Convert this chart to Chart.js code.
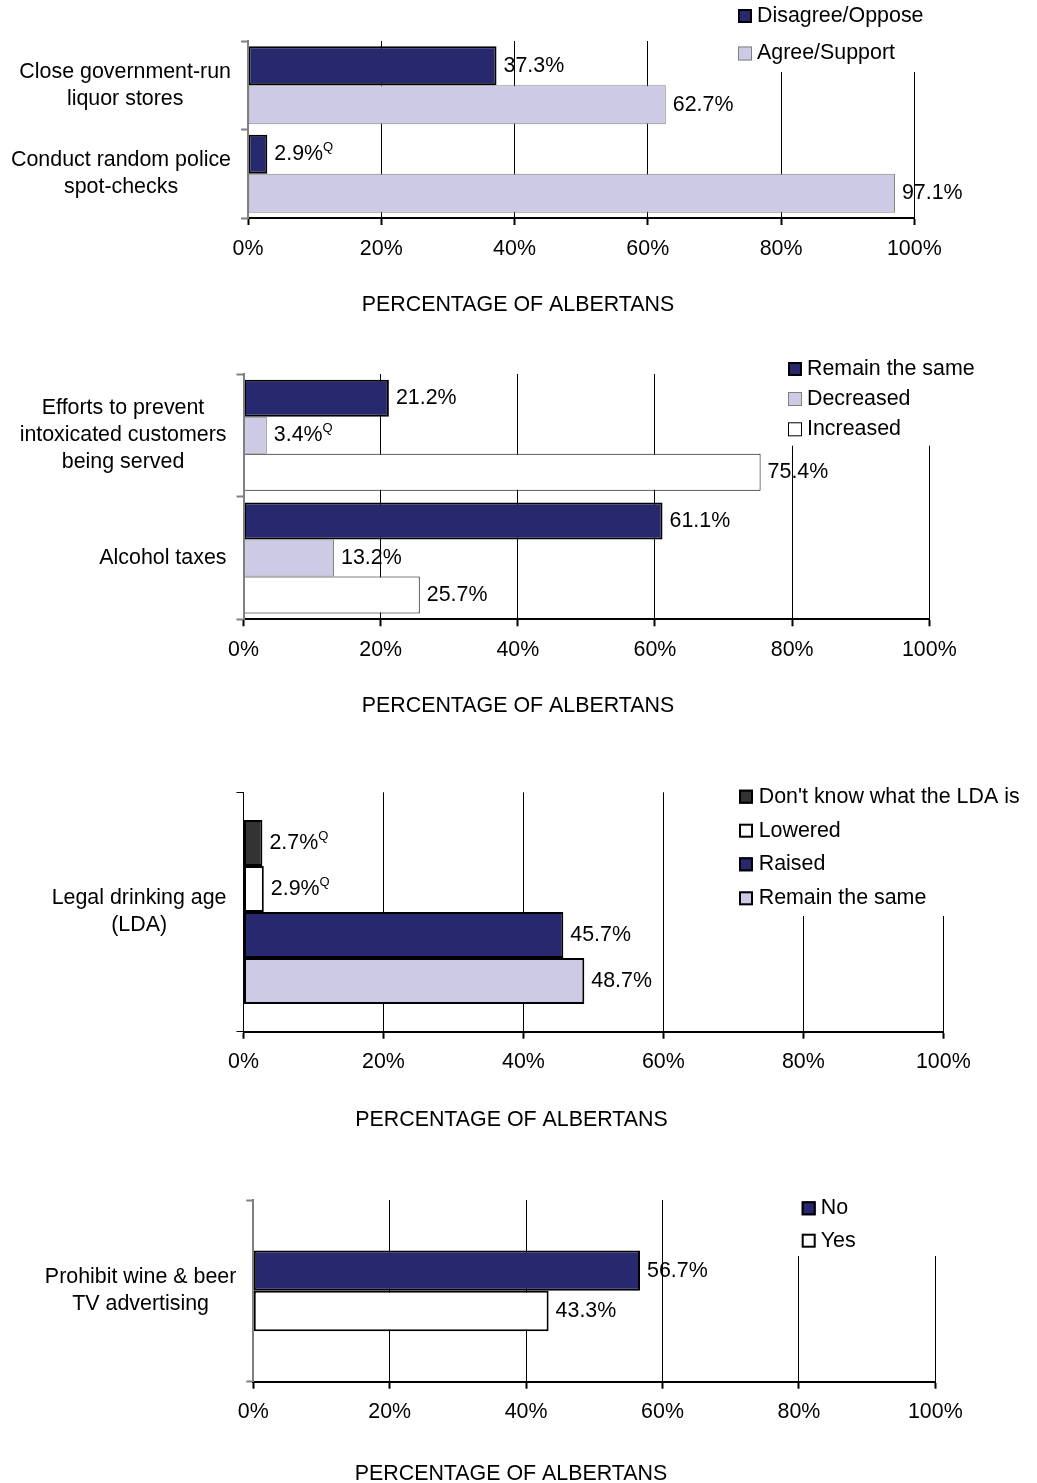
<!DOCTYPE html>
<html>
<head>
<meta charset="utf-8">
<title>Albertans and alcohol policy</title>
<script src="https://cdn.jsdelivr.net/npm/chart.js@4.4.1/dist/chart.umd.min.js"></script>
<style>
  html, body { margin: 0; padding: 0; background: #fff; overflow: hidden; }
  body { width: 1037px; height: 1483px; position: relative; }
  .panel { position: absolute; left: 0; width: 1037px; }
</style>
</head>
<body>
<div class="panel" id="p1"><canvas id="chart1"></canvas></div>
<div class="panel" id="p2"><canvas id="chart2"></canvas></div>
<div class="panel" id="p3"><canvas id="chart3"></canvas></div>
<div class="panel" id="p4"><canvas id="chart4"></canvas></div>
<script>
// Données des graphiques
const axisTitle = 'PERCENTAGE OF ALBERTANS';
const xTickValues = [0, 20, 40, 60, 80, 100];

// 1. liquor stores / police spot-checks
const policyItems = [['Close government-run', 'liquor stores'], ['Conduct random police', 'spot-checks']];
const policyLegend = ['Disagree/Oppose', 'Agree/Support'];
const policyDisagree = [37.3, 2.9];
const policyAgree = [62.7, 97.1];
const policyDisagreeQ = [false, true];

// 2. should be increased / decreased / remain the same
const changeItems = [['Efforts to prevent', 'intoxicated customers', 'being served'], ['Alcohol taxes']];
const changeLegend = ['Remain the same', 'Decreased', 'Increased'];
const changeSame = [21.2, 61.1];
const changeDecreased = [3.4, 13.2];
const changeIncreased = [75.4, 25.7];
const changeDecreasedQ = [true, false];

// 3. legal drinking age
const ldaItems = [['Legal drinking age', '(LDA)']];
const ldaLegend = ["Don't know what the LDA is", 'Lowered', 'Raised', 'Remain the same'];
const ldaDontKnow = [2.7];
const ldaLowered = [2.9];
const ldaRaised = [45.7];
const ldaSame = [48.7];
const ldaDontKnowQ = [true];
const ldaLoweredQ = [true];

// 4. TV advertising
const adItems = [['Prohibit wine & beer', 'TV advertising']];
const adLegend = ['No', 'Yes'];
const adNo = [56.7];
const adYes = [43.3];

// Styles
const FAMILY = '"Liberation Sans", Arial, sans-serif';
const FSIZE = 21.4;
const FONT = FSIZE + 'px ' + FAMILY;
const SMALL = '13px ' + FAMILY;
const NAVY = '#28286e';
const LAVENDER = '#cccae4';
const WHITE = '#ffffff';
const DARK = '#333333';
const HX = 50;              // hauteur de l'axe x
const LH = FSIZE * 1.2;     // hauteur de ligne du titre

Chart.defaults.font.family = FAMILY;
Chart.defaults.font.size = FSIZE;
Chart.defaults.color = '#000';

const panels = [
    {
        canvas: 'chart1', div: 'p1', top: 0, height: 326,
        plotTop: 41, axisY: 218, zeroX: 248, fullX: 914.3, titleY: 303, titleX: 518,
        catPct: 0.88, yLine: '#808080', yLineWidth: 2,
        legend: { left: 731, bottom: 72, boxX: 738, textX: 757, rows: [16, 53.5] },
        labels: policyItems,
        datasets: [
            { label: policyLegend[0], data: policyDisagree, quality: policyDisagreeQ, backgroundColor: NAVY, borderColor: '#000', borderWidth: 2 },
            { label: policyLegend[1], data: policyAgree, backgroundColor: LAVENDER, borderColor: '#808080', borderWidth: 1 }
        ]
    },
    {
        canvas: 'chart2', div: 'p2', top: 330, height: 397,
        plotTop: 374, axisY: 619.3, zeroX: 243.5, fullX: 929.3, titleY: 704, titleX: 518,
        catPct: 0.905, yLine: '#808080', yLineWidth: 2,
        legend: { left: 783, bottom: 445.7, boxX: 788, textX: 807, rows: [369, 399, 429.3] },
        labels: changeItems,
        datasets: [
            { label: changeLegend[0], data: changeSame, backgroundColor: NAVY, borderColor: '#000', borderWidth: 2 },
            { label: changeLegend[1], data: changeDecreased, quality: changeDecreasedQ, backgroundColor: LAVENDER, borderColor: '#808080', borderWidth: 1 },
            { label: changeLegend[2], data: changeIncreased, backgroundColor: WHITE, borderColor: '#000', borderWidth: 1 }
        ]
    },
    {
        canvas: 'chart3', div: 'p3', top: 740, height: 402,
        plotTop: 792.3, axisY: 1031.7, zeroX: 243.5, fullX: 943.3, titleY: 1118, titleX: 511.5,
        catPct: 0.768, yLine: '#000', yLineWidth: 1,
        legend: { left: 734, bottom: 916, boxX: 739, textX: 758.7, rows: [796.7, 830.7, 864.3, 898.3] },
        labels: ldaItems,
        datasets: [
            { label: ldaLegend[0], data: ldaDontKnow, quality: ldaDontKnowQ, backgroundColor: DARK, borderColor: '#000', borderWidth: 2 },
            { label: ldaLegend[1], data: ldaLowered, quality: ldaLoweredQ, backgroundColor: WHITE, borderColor: '#000', borderWidth: 2 },
            { label: ldaLegend[2], data: ldaRaised, backgroundColor: NAVY, borderColor: '#000', borderWidth: 2 },
            { label: ldaLegend[3], data: ldaSame, backgroundColor: LAVENDER, borderColor: '#000', borderWidth: 2 }
        ]
    },
    {
        canvas: 'chart4', div: 'p4', top: 1148, height: 342,
        plotTop: 1200, axisY: 1381.7, zeroX: 253.3, fullX: 935.3, titleY: 1471.7, titleX: 511,
        catPct: 0.444, yLine: '#808080', yLineWidth: 2,
        legend: { left: 796, bottom: 1256, boxX: 801.7, textX: 820.7, rows: [1208.3, 1240.7] },
        labels: adItems,
        datasets: [
            { label: adLegend[0], data: adNo, backgroundColor: NAVY, borderColor: '#000', borderWidth: 2 },
            { label: adLegend[1], data: adYes, backgroundColor: WHITE, borderColor: '#000', borderWidth: 2 }
        ]
    }
];

// Étiquettes, catégories et légende dessinées sur le canvas
const panelDecor = {
    id: 'panelDecor',
    afterDatasetsDraw(chart) {
        const ctx = chart.ctx;
        ctx.save();
        ctx.fillStyle = '#000';
        ctx.textBaseline = 'middle';

        // valeurs à droite des barres
        chart.data.datasets.forEach((ds, di) => {
            const meta = chart.getDatasetMeta(di);
            meta.data.forEach((bar, i) => {
                const txt = ds.data[i].toFixed(1) + '%';
                const x = bar.x + 7;
                ctx.font = FONT;
                ctx.textAlign = 'left';
                ctx.fillText(txt, x, bar.y);
                if (ds.quality && ds.quality[i]) {
                    const w = ctx.measureText(txt).width;
                    ctx.font = SMALL;
                    ctx.fillText('Q', x + w, bar.y - 7);
                }
            });
        });

        // libellés des catégories (lignes centrées, bloc aligné à droite)
        const ys = chart.scales.y;
        const right = chart.chartArea.left - 17;
        ctx.font = FONT;
        ctx.textAlign = 'center';
        chart.data.labels.forEach((lines, i) => {
            const cy = ys.getPixelForValue(i);
            const widest = Math.max(...lines.map(l => ctx.measureText(l).width));
            const cx = right - widest / 2;
            lines.forEach((l, k) => {
                ctx.fillText(l, cx, cy + (k - (lines.length - 1) / 2) * 27);
            });
        });
        ctx.restore();
    },
    afterDraw(chart, args, opts) {
        const L = opts.legend;
        const ctx = chart.ctx;
        ctx.save();
        ctx.fillStyle = '#fff';
        ctx.fillRect(L.left, 0, chart.width - L.left, L.bottom);
        const s = 14;
        chart.data.datasets.forEach((ds, i) => {
            const cy = L.rows[i];
            const bw = ds.borderWidth;
            ctx.fillStyle = ds.backgroundColor;
            ctx.fillRect(L.boxX, cy - s / 2, s, s);
            ctx.strokeStyle = ds.borderColor;
            ctx.lineWidth = bw;
            ctx.strokeRect(L.boxX + bw / 2, cy - s / 2 + bw / 2, s - bw, s - bw);
            ctx.fillStyle = '#000';
            ctx.font = FONT;
            ctx.textAlign = 'left';
            ctx.textBaseline = 'middle';
            ctx.fillText(ds.label, L.textX, cy);
        });
        ctx.restore();
    }
};

function makeChart(p) {
    const div = document.getElementById(p.div);
    div.style.top = p.top + 'px';
    div.style.height = p.height + 'px';

    const axisLocal = p.axisY - p.top;
    const tPadTop = p.titleY - p.top - axisLocal - HX - LH / 2 + 2;
    const tPadBottom = Math.max(0, p.height - axisLocal - HX - tPadTop - LH);

    // le titre est centré entre les marges gauche et droite
    const padRight = 1037 - p.fullX;
    const padLeft = 2 * p.titleX - 1037 + padRight;

    const legend = {
        left: p.legend.left,
        bottom: p.legend.bottom - p.top,
        boxX: p.legend.boxX,
        textX: p.legend.textX,
        rows: p.legend.rows.map(r => r - p.top)
    };

    return new Chart(document.getElementById(p.canvas), {
        type: 'bar',
        data: {
            labels: p.labels,
            datasets: p.datasets.map(ds => Object.assign({ borderSkipped: false }, ds))
        },
        options: {
            indexAxis: 'y',
            responsive: true,
            maintainAspectRatio: false,
            animation: false,
            events: [],
            barPercentage: 1,
            categoryPercentage: p.catPct,
            layout: {
                padding: { top: p.plotTop - p.top, left: padLeft, right: padRight, bottom: 0 }
            },
            scales: {
                x: {
                    type: 'linear',
                    min: 0,
                    max: 100,
                    afterBuildTicks: s => { s.ticks = xTickValues.map(v => ({ value: v })); },
                    afterFit: s => { s.height = HX; },
                    ticks: {
                        callback: v => v + '%',
                        padding: 11,
                        color: '#000',
                        font: { size: FSIZE },
                        maxRotation: 0
                    },
                    grid: {
                        color: '#000',
                        lineWidth: 1,
                        drawTicks: true,
                        tickLength: 7,
                        tickColor: '#000',
                        tickWidth: 2
                    },
                    border: { display: true, color: '#000', width: 2 }
                },
                y: {
                    type: 'category',
                    afterFit: s => { s.width = p.zeroX - padLeft; },
                    ticks: { display: false },
                    grid: {
                        offset: true,
                        drawOnChartArea: false,
                        drawTicks: true,
                        tickLength: 7,
                        tickColor: p.yLine,
                        tickWidth: p.yLineWidth
                    },
                    border: { display: true, color: p.yLine, width: p.yLineWidth, z: 1 }
                }
            },
            plugins: {
                legend: { display: false },
                tooltip: { enabled: false },
                title: {
                    display: true,
                    position: 'bottom',
                    text: axisTitle,
                    color: '#000',
                    font: { size: FSIZE, weight: 'normal', lineHeight: 1.2 },
                    padding: { top: tPadTop, bottom: tPadBottom }
                },
                panelDecor: { legend: legend }
            }
        },
        plugins: [panelDecor]
    });
}

panels.forEach(makeChart);
</script>
</body>
</html>
